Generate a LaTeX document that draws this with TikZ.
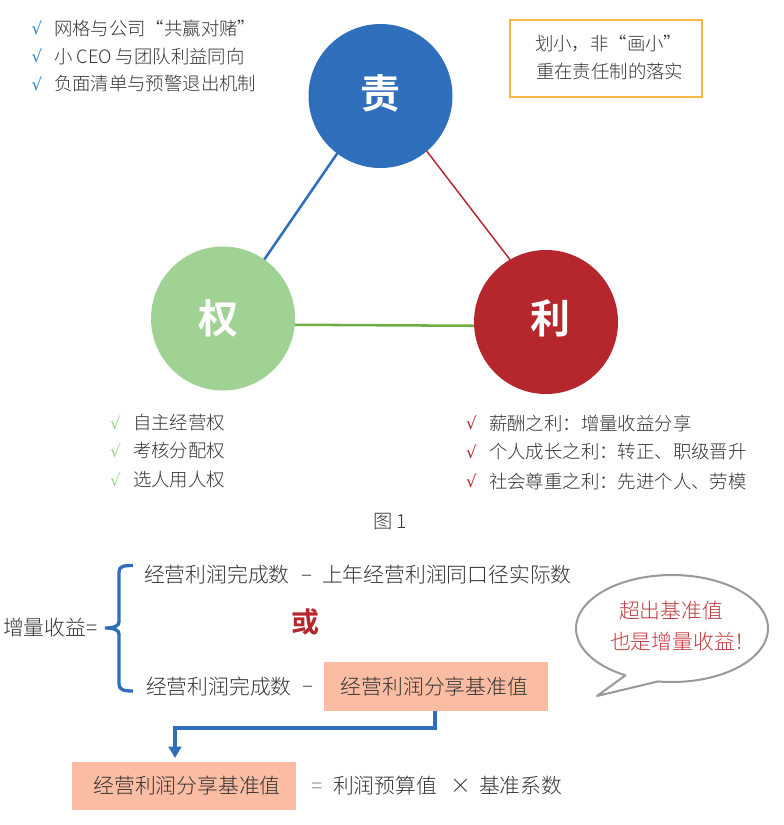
\documentclass[tikz,border=0pt]{standalone}
\usepackage{fontspec}
\setmainfont{Noto Sans CJK SC}[UprightFont=* Light,BoldFont=* Bold]
\newfontfamily\checkfont{DejaVu Sans}
\usetikzlibrary{arrows.meta}
\definecolor{cblue}{HTML}{2F6EBA}
\definecolor{ctick}{HTML}{2E86C8}
\definecolor{cgreen}{HTML}{A0D293}
\definecolor{cgreenline}{HTML}{70AD47}
\definecolor{cred}{HTML}{B5262D}
\definecolor{cbox}{HTML}{FBBCA4}
\definecolor{cyellow}{HTML}{F5B942}
\definecolor{ctext}{HTML}{333333}
\definecolor{cbubble}{HTML}{C0393F}
\definecolor{cgrey}{HTML}{999999}
\newcommand{\szA}{\fontsize{13.8}{16}\selectfont}
\newcommand{\szB}{\fontsize{15.6}{18}\selectfont}
\newcommand{\fwcolon}{^^^^ff1a}
\newcommand{\fwcomma}{^^^^ff0c}
\newcommand{\fwbang}{^^^^ff01}
\tikzset{
  every node/.style={inner sep=0pt,outer sep=0pt},
  bigcircle/.style={circle,minimum size=144*0.75pt},
  bigtext/.style={anchor=center,text=white,font=\fontsize{30}{34}\selectfont\bfseries},
  listtext/.style={anchor=west,text=ctext,font=\szA},
  formula/.style={anchor=west,text=ctext,font=\szB},
  tick/.style={anchor=center,font=\checkfont\fontsize{12.5}{14}\selectfont},
  salmon/.style={fill=cbox,minimum width=224*0.75pt,minimum height=48.5*0.75pt,anchor=north west,text=ctext,font=\szB}
}
\begin{document}
\begin{tikzpicture}[x=0.75pt,y=-0.75pt]
\useasboundingbox (0,0) rectangle (783,825);
% circles
\node[bigcircle,fill=cblue] (ze) at (380.5,96) {};
\node[bigcircle,fill=cgreen] (quan) at (223,318.5) {};
\node[bigcircle,fill=cred] (li) at (546,322) {};
\node[bigtext] (zet) at (380,93) {责};
\node[bigtext] (quant) at (218,318) {权};
\node[bigtext] (lit) at (550,318) {利};
\draw[cblue,line width=1.9pt] (ze.233) -- (quan.55);
\draw[cred,line width=1.1pt] (ze.-50) -- (li.120.5);
\draw[cgreenline,line width=1.9pt] (quan.-5) -- (li.183);
% top-left list
\node[tick,text=ctick] (t1) at (37,28) {√};
\node[tick,text=ctick] (t2) at (37,56) {√};
\node[tick,text=ctick] (t3) at (37,84) {√};
\node[listtext] (a1) at (54,28) {网格与公司“共赢对赌”};
\node[listtext] (a2) at (54,56) {小 CEO 与团队利益同向};
\node[listtext] (a3) at (54,84) {负面清单与预警退出机制};
% yellow box
\node[draw=cyellow,line width=1.1pt,minimum width=192*0.75pt,minimum height=77*0.75pt,anchor=north west] (ybox) at (510,20) {};
\node[listtext] (y1) at (535,44) {划小\fwcomma 非“画小”};
\node[listtext] (y2) at (536,71) {重在责任制的落实};
% lower-left list
\node[tick,text=cgreen] (t4) at (115.5,423) {√};
\node[tick,text=cgreen] (t5) at (115.5,451) {√};
\node[tick,text=cgreen] (t6) at (115.5,480) {√};
\node[listtext] (b1) at (133,423) {自主经营权};
\node[listtext] (b2) at (133,451) {考核分配权};
\node[listtext] (b3) at (133,480) {选人用人权};
% lower-right list
\node[tick,text=cred] (t7) at (471.5,423) {√};
\node[tick,text=cred] (t8) at (471.5,452) {√};
\node[tick,text=cred] (t9) at (471.5,481) {√};
\node[listtext] (c1) at (489,423) {薪酬之利\fwcolon 增量收益分享};
\node[listtext] (c2) at (489,452) {个人成长之利\fwcolon 转正、职级晋升};
\node[listtext] (c3) at (489,481) {社会尊重之利\fwcolon 先进个人、劳模};
% caption
\node[listtext,font=\fontsize{14.5}{16}\selectfont] (cap) at (373,522) {图 1};
% formula
\node[formula] (lhs) at (3,628) {增量收益=};
\draw[cblue,line width=2.5pt] (133,565.5) .. controls (124,565.5) and (119,566) .. (119,572) -- (119,622) .. controls (119,626) and (114,628) .. (105,628) .. controls (114,628) and (119,630) .. (119,634) -- (119,684) .. controls (119,690) and (124,691) .. (133,691);
\node[formula] (f1) at (144,575) {经营利润完成数};
\node[formula] (m1) at (301,578) {–};
\node[formula] (f2) at (322,575) {上年经营利润同口径实际数};
\node[anchor=center,text=cred,font=\fontsize{21}{24}\selectfont\bfseries] (or) at (305.5,622) {或};
\node[formula] (f3) at (146,687) {经营利润完成数};
\node[formula] (m2) at (302,689) {–};
\node[salmon] (box1) at (324,662) {经营利润分享基准值\hspace*{2.25pt}};
\node[salmon,minimum height=48*0.75pt] (box2) at (72,762) {\hspace*{4.5pt}经营利润分享基准值};
\draw[cblue,line width=2.4pt,-{Triangle[width=9.5pt,length=8.5pt]}] (box1.south -| 435,711) -- (435,728) -- (175,728) -- (175,758);
\node[formula,text=gray] (eq) at (311,788) {=};
\node[formula] (g1) at (333,786) {利润预算值};
\node[formula] (g2) at (450,786) {×};
\node[formula] (g3) at (479,786) {基准系数};
% speech bubble
\draw[cgrey,line width=1.5pt,fill=white,line join=round] plot[domain=119:458.4,samples=120,variable=\t] ({672+96*cos(\t)},{628.5+53.5*sin(\t)}) -- (597,696) -- cycle;
\node[listtext,text=cbubble,font=\szB] (s1) at (619,611) {超出基准值};
\node[listtext,text=cbubble,font=\szB] (s2) at (610,642) {也是增量收益\fwbang};
\end{tikzpicture}
\end{document}
